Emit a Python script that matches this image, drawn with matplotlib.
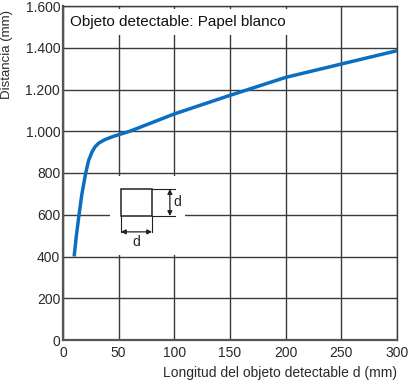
import matplotlib
matplotlib.use("Agg")
import matplotlib.pyplot as plt
from matplotlib.patches import Rectangle

# curve (white paper)
length_mm = [10, 12, 14.4, 17, 20.4, 23, 26, 28.7, 32, 37.7, 45, 60, 100, 150, 200, 250, 300]
distance_mm = [400, 500, 600, 700, 800, 860, 900, 925, 943, 960, 975, 1000, 1083, 1172, 1258, 1322, 1386]

x_ticks = [0, 50, 100, 150, 200, 250, 300]
y_ticks = [0, 200, 400, 600, 800, 1000, 1200, 1400, 1600]
y_labels = ["0", "200", "400", "600", "800", "1.000", "1.200", "1.400", "1.600"]

plt.rcParams["font.family"] = ["Liberation Sans", "DejaVu Sans"]
grid_col = "#3a3a3a"
text_col = "#2a2a2a"

fig = plt.figure(figsize=(4.09, 3.85), dpi=100)
ax = fig.add_axes([63 / 409, 45 / 385, 334 / 409, 334 / 385])

ax.set_xlim(0, 300)
ax.set_ylim(0, 1600)
ax.set_xticks(x_ticks)
ax.set_yticks(y_ticks)
ax.set_yticklabels(y_labels)
ax.tick_params(length=0, labelsize=10, colors=text_col)
ax.tick_params(axis="x", pad=4)
ax.tick_params(axis="y", pad=2)
ax.grid(True, color=grid_col, lw=1.0)
ax.set_axisbelow(True)
for side, sp in ax.spines.items():
    sp.set_color("#555555" if side in ("left", "bottom") else grid_col)
    sp.set_linewidth(1.6 if side in ("left", "bottom") else 1.0)

ax.plot(length_mm, distance_mm, color="#0a6fc0", lw=2.5, solid_capstyle="butt",
        solid_joinstyle="round", zorder=4)

# title box
ax.add_patch(Rectangle((1.5, 1460), 202, 125, facecolor="white", edgecolor="none", zorder=2))
ax.text(6, 1522, "Objeto detectable: Papel blanco", fontsize=11, color="#111111",
        va="center", ha="left", zorder=3)

# inset sketch of the detectable object
ax.add_patch(Rectangle((42, 407), 68, 378, facecolor="white", edgecolor="none", zorder=2))
ax.add_patch(Rectangle((52, 594), 28, 129, facecolor="none", edgecolor="#222222", lw=1.1, zorder=3))
ax.plot([80, 101], [723, 723], color="#222222", lw=0.8, zorder=3)
ax.plot([80, 101], [594, 594], color="#222222", lw=0.8, zorder=3)
ax.plot([52, 52], [594, 515], color="#222222", lw=0.8, zorder=3)
ax.plot([80, 80], [594, 515], color="#222222", lw=0.8, zorder=3)
ax.annotate("", xy=(96, 723), xytext=(96, 594),
            arrowprops=dict(arrowstyle="<|-|>", color="#222222", lw=0.9,
                            mutation_scale=7, shrinkA=0, shrinkB=0), zorder=3)
ax.annotate("", xy=(52, 518), xytext=(80, 518),
            arrowprops=dict(arrowstyle="<|-|>", color="#222222", lw=0.9,
                            mutation_scale=7, shrinkA=0, shrinkB=0), zorder=3)
ax.text(103, 660, "d", fontsize=10, color="#222222", ha="center", va="center", zorder=3)
ax.text(66, 470, "d", fontsize=10, color="#222222", ha="center", va="center", zorder=3)

ax.set_xlabel("Longitud del objeto detectable d (mm)", fontsize=10, color=text_col,
              loc="right", labelpad=5)
ax.set_ylabel("Distancia (mm)", fontsize=9.5, color=text_col)
ax.yaxis.set_label_coords(-0.15, 0.855)

fig.savefig("out.png", dpi=100)
